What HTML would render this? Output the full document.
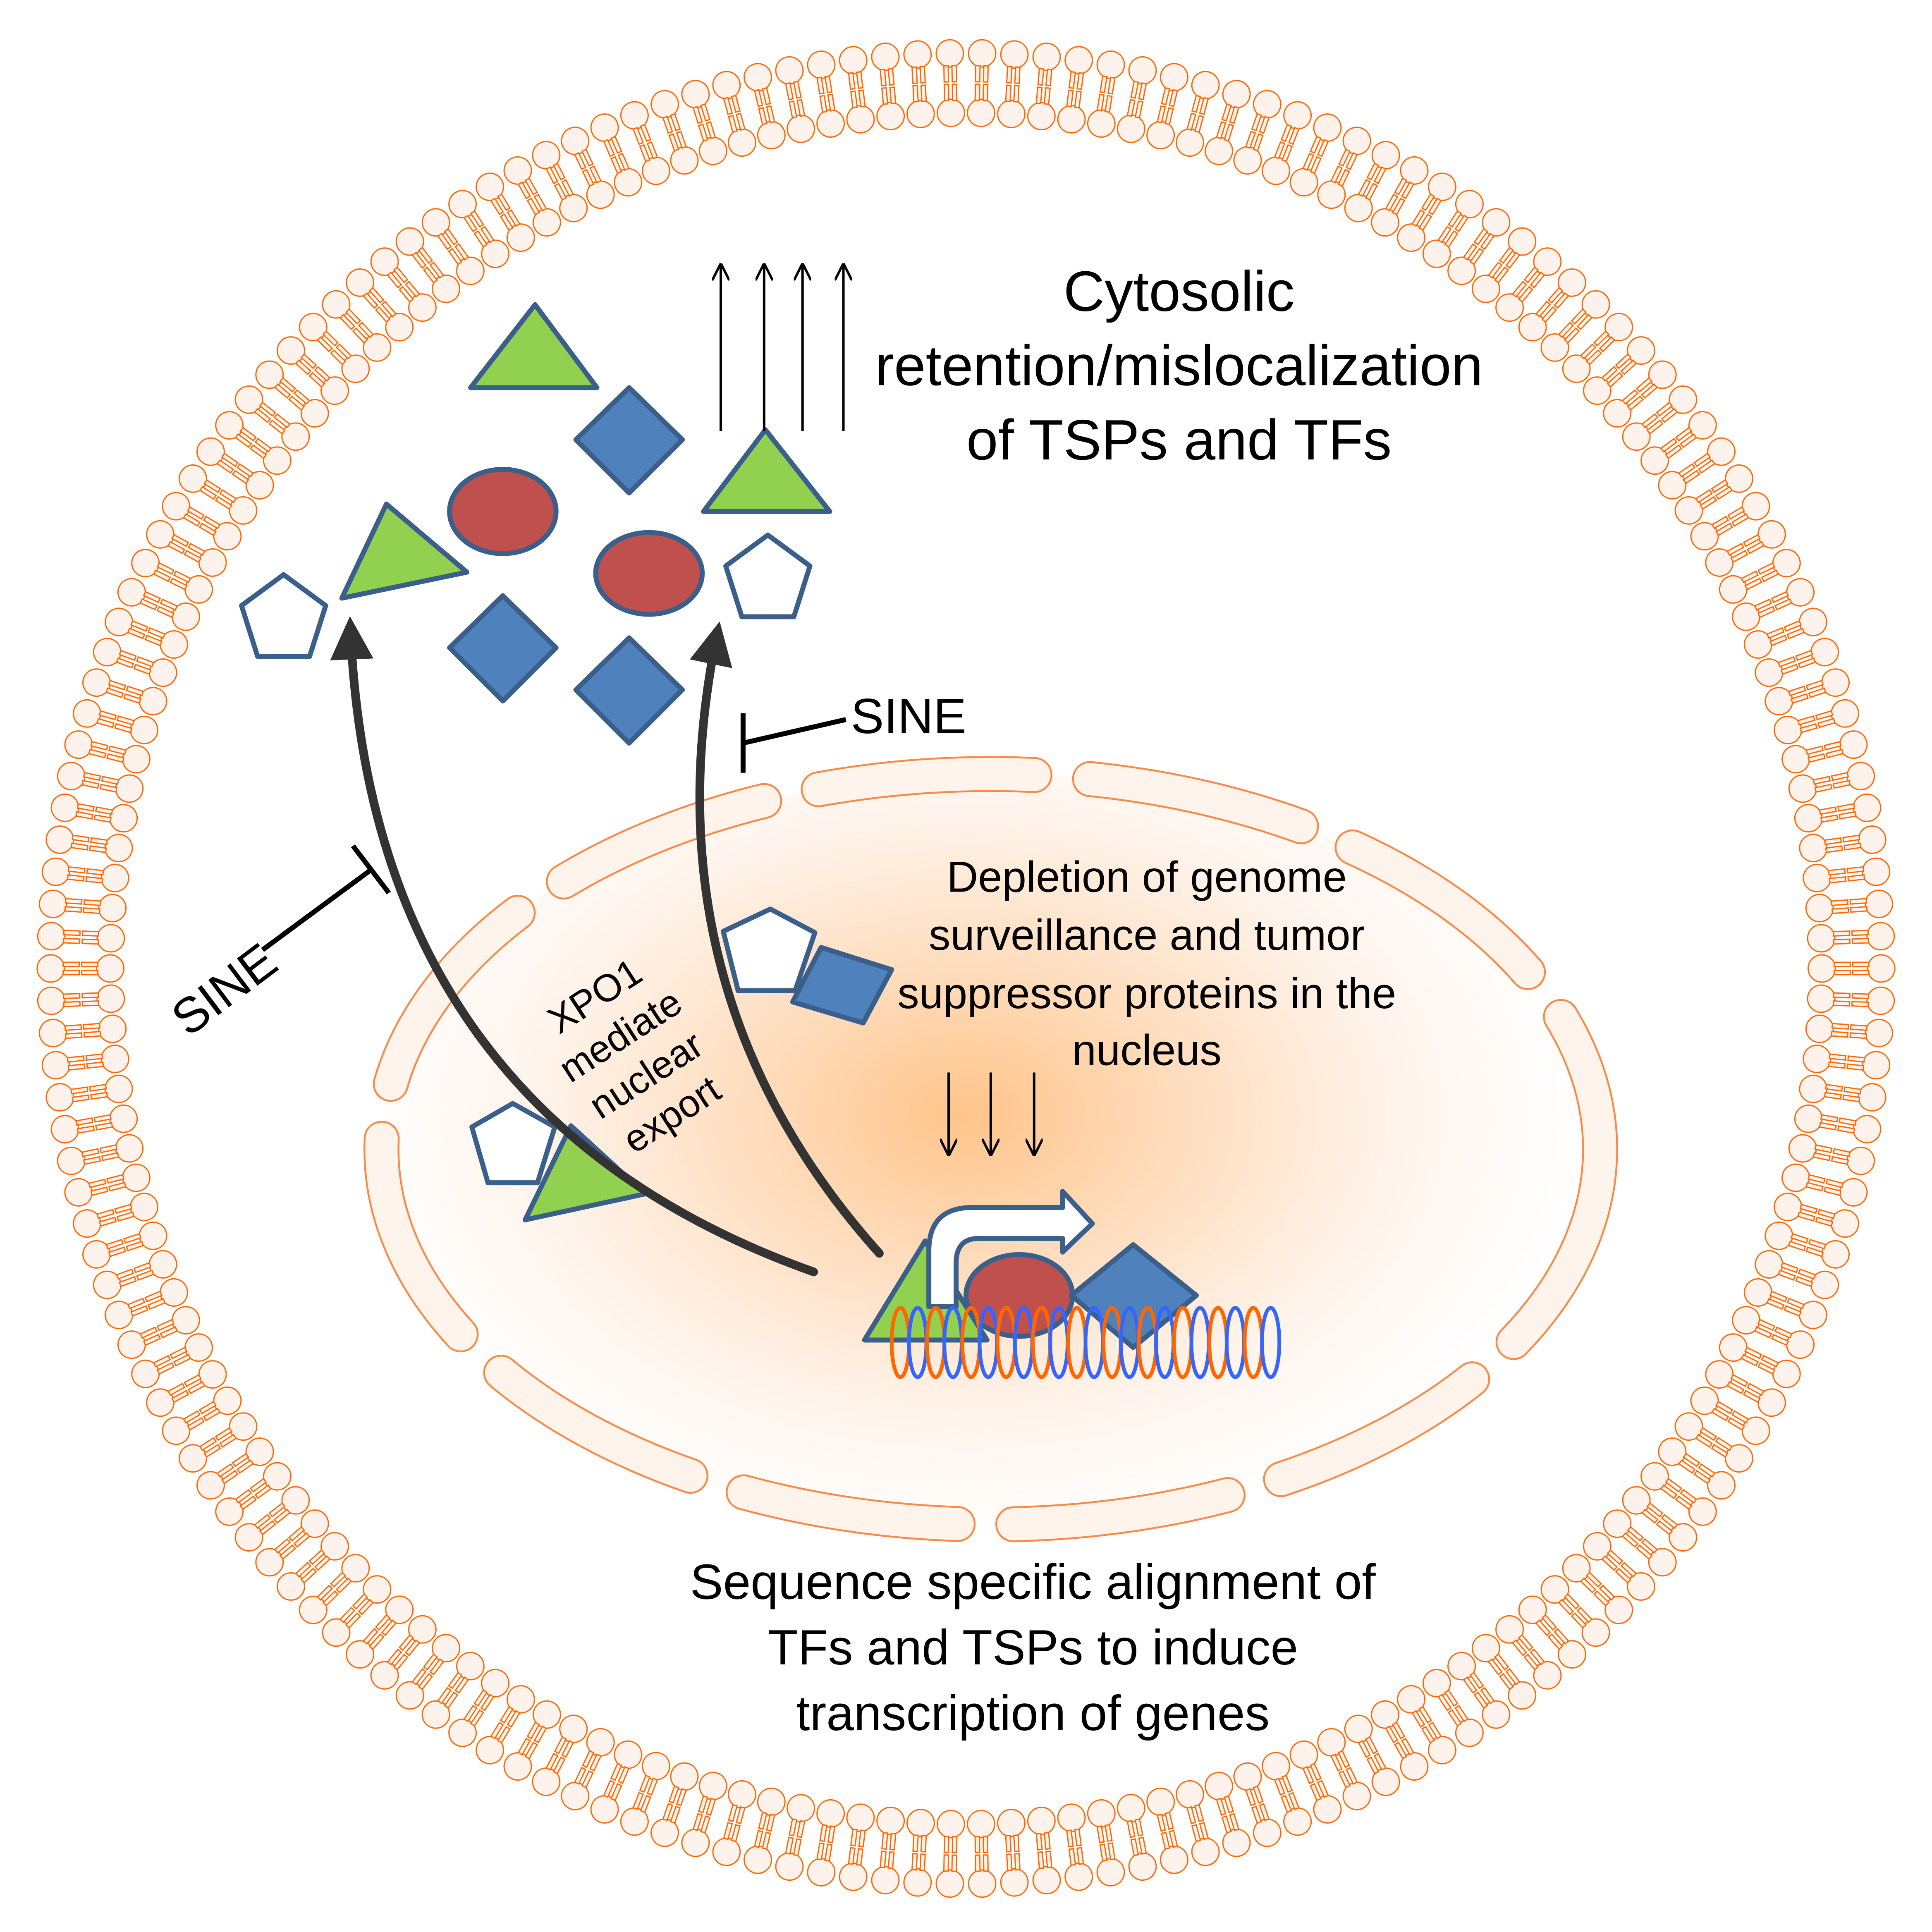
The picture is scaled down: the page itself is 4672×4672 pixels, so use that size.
<!DOCTYPE html>
<html><head><meta charset="utf-8"><style>
html,body{margin:0;padding:0;background:#fff}
svg{display:block}
text{font-family:"Liberation Sans",sans-serif;fill:#000}
</style></head><body>
<svg id="s" width="4672" height="4672" viewBox="0 0 1560 1560" xmlns="http://www.w3.org/2000/svg">
<defs>
<radialGradient id="g" cx="780" cy="900" r="500" gradientUnits="userSpaceOnUse" gradientTransform="translate(780 900) scale(1 0.7) translate(-780 -900)">
<stop offset="0" stop-color="#FFC48A"/><stop offset="0.35" stop-color="#FFDDBE"/><stop offset="0.7" stop-color="#FFF4EC"/><stop offset="1" stop-color="#FFFFFF"/>
</radialGradient>
<marker id="ah" viewBox="0 0 10 10" refX="9" refY="5" markerWidth="14" markerHeight="14" markerUnits="userSpaceOnUse" orient="auto"><path d="M0,0 L10,5 L0,10" fill="none" stroke="#000" stroke-width="1.4"/></marker>
<marker id="bh" viewBox="0 0 10 10" refX="7" refY="5" markerWidth="5" markerHeight="5" orient="auto"><path d="M0,0 L10,5 L0,10 Z" fill="#333"/></marker>
</defs>
<g id="mem"></g>
<!-- nucleus -->
<ellipse cx="800" cy="928" rx="492" ry="303" fill="url(#g)"/>
<ellipse cx="800" cy="928" rx="492" ry="303" fill="none" stroke="#F98A46" stroke-width="29" stroke-dasharray="175 45" stroke-linecap="round"/>
<ellipse cx="800" cy="928" rx="492" ry="303" fill="none" stroke="#FFF4EC" stroke-width="26" stroke-dasharray="175 45" stroke-linecap="round"/>

<g stroke="#3A5F8B" stroke-width="4" stroke-linejoin="round">
<polygon points="380,313 482,313 432,246" fill="#92D050"/>
<polygon points="508,313 551,355 508,398 465,355" fill="#4F81BD"/>
<polygon points="568,413 670,413 618,347" fill="#92D050"/>
<ellipse cx="406" cy="413" rx="43" ry="34" fill="#C0504D"/>
<polygon points="276,483 377,462 312,407" fill="#92D050"/>
<ellipse cx="524" cy="463" rx="43" ry="33" fill="#C0504D"/>
<polygon points="229,464 263,489 250,530 208,530 195,489" fill="#fff"/>
<polygon points="620,432 654,457 641,498 599,498 586,457" fill="#fff"/>
<polygon points="406,481 449,523 406,566 363,523" fill="#4F81BD"/>
<polygon points="508,515 551,557 508,600 465,557" fill="#4F81BD"/>
<polygon points="622,734 658,753 642,800 596,800 584,752" fill="#fff"/>
<polygon points="663,765 720,783 697,826 640,809" fill="#4F81BD"/>
<polygon points="414,891 448,910 434,955 394,955 381,910" fill="#fff"/>
<polygon points="424,985 521,964 461,909" fill="#92D050"/>
<polygon points="698,1082 797,1082 747,1002" fill="#92D050"/>
<ellipse cx="823" cy="1046" rx="43" ry="33" fill="#C0504D"/>
<polygon points="915,1005 966,1046 915,1088 865,1046" fill="#4F81BD"/>
<path d="M750,1055 L750,1010 Q750,975 785,975 L858,975 L858,962 L882,988 L858,1011 L858,1000 L790,1000 Q772,1000 772,1020 L772,1055 Z" fill="#fff"/>
</g>
<g id="dna" fill="none" stroke-width="3"></g>

<g stroke="#000" stroke-width="2" marker-end="url(#ah)">
<line x1="582" y1="348" x2="582" y2="214"/><line x1="617" y1="348" x2="617" y2="214"/>
<line x1="648" y1="348" x2="648" y2="214"/><line x1="681" y1="348" x2="681" y2="214"/>
<line x1="766" y1="866" x2="766" y2="932"/><line x1="800" y1="866" x2="800" y2="932"/><line x1="835" y1="866" x2="835" y2="932"/>
</g>
<g fill="none" stroke="#333" stroke-width="7" stroke-linecap="round">
<path d="M657,1027 Q300,900 283,508" marker-end="url(#bh)"/>
<path d="M710,1012 Q520,800 579,512" marker-end="url(#bh)"/>
</g>
<g stroke="#000" stroke-width="4">
<line x1="600" y1="600" x2="683" y2="581"/><line x1="600" y1="576" x2="600" y2="624"/>
<line x1="212" y1="767" x2="300" y2="702"/><line x1="285" y1="683" x2="314" y2="721"/>
</g>
<text x="687" y="592" font-size="40">SINE</text>
<text x="0" y="0" font-size="40" transform="translate(152,838) rotate(-37)">SINE</text>

<g font-size="31" text-anchor="middle" transform="translate(510,850) rotate(-33)">
<text x="0" y="-44">XPO1</text><text x="0" y="-6">mediate</text><text x="0" y="32">nuclear</text><text x="0" y="70">export</text>
</g>

<g font-size="46" text-anchor="middle">
<text x="952" y="251">Cytosolic</text>
<text x="952" y="311">retention/mislocalization</text>
<text x="952" y="371">of TSPs and TFs</text>
</g>
<g font-size="35" text-anchor="middle">
<text x="926" y="720">Depletion of genome</text>
<text x="926" y="767">surveillance and tumor</text>
<text x="926" y="814">suppressor proteins in the</text>
<text x="926" y="860">nucleus</text>
</g>
<g font-size="40" text-anchor="middle">
<text x="834" y="1291">Sequence specific alignment of</text>
<text x="834" y="1344">TFs and TSPs to induce</text>
<text x="834" y="1397">transcription of genes</text>
</g>
</svg>
<script>
(function(){
var mem=document.getElementById("mem");
var N=178, s="";
for(var i=0;i<N;i++){
 var a=360*i/N;
 s+='<g transform="translate(780 782) rotate('+a.toFixed(3)+')">'+
 '<circle cx="739" cy="0" r="11"/><circle cx="691" cy="0" r="11"/>'+
 '<rect x="716" y="-5" width="13" height="3.5"/><rect x="716" y="1.5" width="13" height="3.5"/>'+
 '<rect x="701" y="-5" width="13" height="3.5"/><rect x="701" y="1.5" width="13" height="3.5"/></g>';
}
mem.setAttribute("fill","#FEF3EC");mem.setAttribute("stroke","#FF6600");mem.setAttribute("stroke-width","1");
mem.innerHTML=s;
var d=document.getElementById("dna"),t="";
for(var k=0;k<11;k++){
 var x=727+k*28.5;
 t+='<ellipse cx="'+x+'" cy="1084" rx="7" ry="28" stroke="#FF6600"/>';
 t+='<ellipse cx="'+(x+14)+'" cy="1084" rx="7" ry="28" stroke="#3366FF"/>';
}
d.innerHTML=t;
})();
</script>
</body></html>
